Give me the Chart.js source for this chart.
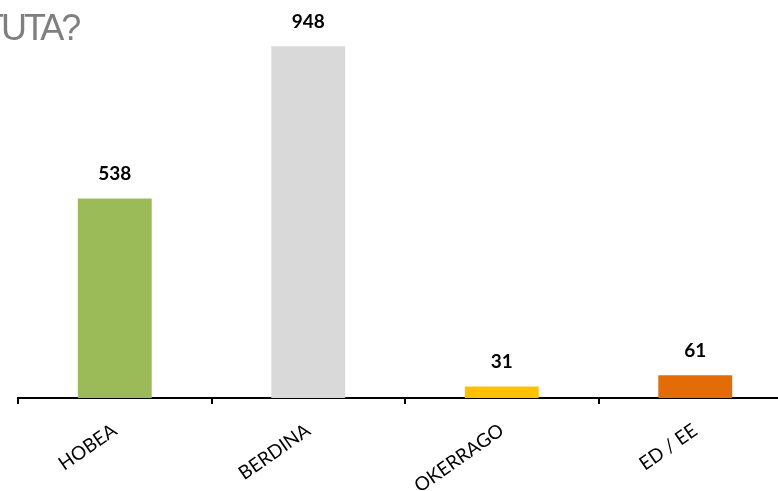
<!DOCTYPE html>
<html>
<head>
<meta charset="utf-8">
<script src="https://cdn.jsdelivr.net/npm/chart.js@4"></script>
<style>
  html, body { margin: 0; padding: 0; background: #fff; overflow: hidden; }
  #wrap { position: relative; width: 800px; height: 491px; }
  #title {
    position: absolute; left: -18px; top: 10px;
    font-family: "Liberation Sans", Arial, sans-serif;
    font-size: 36px; letter-spacing: -3px; color: #7f7f7f;
    line-height: 1;
  }
</style>
</head>
<body>
<div id="wrap">
  <canvas id="chart" width="800" height="491"></canvas>
  <div id="title">TUTA?</div>
</div>
<script>
// -- Data --
const categories = ["HOBEA", "BERDINA", "OKERRAGO", "ED / EE"];
const counts = [538, 948, 31, 61];
const barColors = ["#9BBB59", "#D9D9D9", "#FFC000", "#E36C09"];

// value labels over the bars
const valueLabels = {
    id: 'valueLabels',
    afterDatasetsDraw(chart) {
        const ctx = chart.ctx;
        const meta = chart.getDatasetMeta(0);
        ctx.save();
        ctx.font = 'bold 19px Lato, "Open Sans", sans-serif';
        ctx.fillStyle = '#000';
        ctx.textAlign = 'center';
        ctx.textBaseline = 'alphabetic';
        meta.data.forEach((bar, i) => {
            ctx.fillText(String(counts[i]), bar.x, bar.y - 18);
        });
        ctx.restore();
    }
};

const ctx = document.getElementById('chart').getContext('2d');
new Chart(ctx, {
    type: 'bar',
    data: {
        labels: categories,
        datasets: [{
            data: counts,
            backgroundColor: barColors,
            borderWidth: 0,
            barPercentage: 0.382,
            categoryPercentage: 1
        }]
    },
    options: {
        responsive: false,
        animation: false,
        layout: { padding: { left: 18, right: 8, top: 27, bottom: 0 } },
        plugins: {
            legend: { display: false },
            tooltip: { enabled: false }
        },
        scales: {
            y: {
                display: false,
                min: 0,
                max: 1000
            },
            x: {
                afterFit(scale) { scale.height = 93; },
                border: { display: true, color: '#000', width: 2 },
                grid: {
                    display: true,
                    offset: true,
                    drawOnChartArea: false,
                    drawTicks: true,
                    tickLength: 6,
                    color: '#000',
                    lineWidth: 2
                },
                ticks: {
                    color: '#000',
                    font: { family: 'Lato, "Open Sans", sans-serif', size: 19 },
                    minRotation: 35,
                    maxRotation: 35,
                    padding: 15,
                    autoSkip: false
                }
            }
        }
    },
    plugins: [valueLabels]
});
</script>
</body>
</html>
